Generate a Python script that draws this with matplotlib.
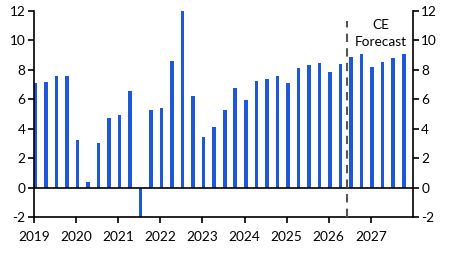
import numpy as np
import matplotlib
matplotlib.use('Agg')
import matplotlib.pyplot as plt

# quarterly values 2019Q1 - 2027Q4
years = list(range(2019, 2028))
values = [7.1, 7.2, 7.6, 7.55,
          3.25, 0.35, 3.0, 4.75,
          4.9, 6.55, -2.1, 5.3,
          5.4, 8.6, 12.1, 6.25,
          3.45, 4.15, 5.3, 6.8,
          5.95, 7.25, 7.4, 7.55,
          7.1, 8.15, 8.3, 8.45,
          7.85, 8.4, 8.9, 9.05,
          8.2, 8.5, 8.8, 9.05]
yticks = [-2, 0, 2, 4, 6, 8, 10, 12]
forecast_start = 2026.43
forecast_label = 'CE\nForecast'

plt.rcParams['font.family'] = ['Lato', 'DejaVu Sans']
plt.rcParams['font.size'] = 9.5
plt.rcParams['axes.unicode_minus'] = False

fig = plt.figure(figsize=(4.51, 2.54), dpi=100)
ax = fig.add_axes([0.0754, 0.1457, 0.8403, 0.811])

x = np.array([2019 + 0.25 * i + 0.03 for i in range(len(values))])
ax.bar(x, values, width=0.085, color='#1f58d6', zorder=2)

ax.axhline(0, color='black', lw=1.2, zorder=3)
ax.plot([forecast_start, forecast_start], [-2, 11.3], ls=(0, (4, 3)), color='#555555', lw=1.5, zorder=4)
ax.text(2027.24, 10.5, forecast_label, ha='center', va='center', fontsize=9.8, linespacing=1.5)

ax.set_xlim(2019, 2028)
ax.set_ylim(-2, 12)
ax.set_xticks(years)
ax.set_xticklabels([str(y) for y in years])
ax.set_yticks(yticks)
ax.tick_params(axis='both', direction='out', length=4, width=1.2, labelsize=9.8, pad=2)
ax.tick_params(axis='y', labelleft=True, labelright=True, left=True, right=True)
ax.tick_params(axis='x', pad=6)

ax.spines['top'].set_visible(False)
for s in ['left', 'right', 'bottom']:
    ax.spines[s].set_linewidth(1.2)

fig.savefig('out.png', dpi=100)
